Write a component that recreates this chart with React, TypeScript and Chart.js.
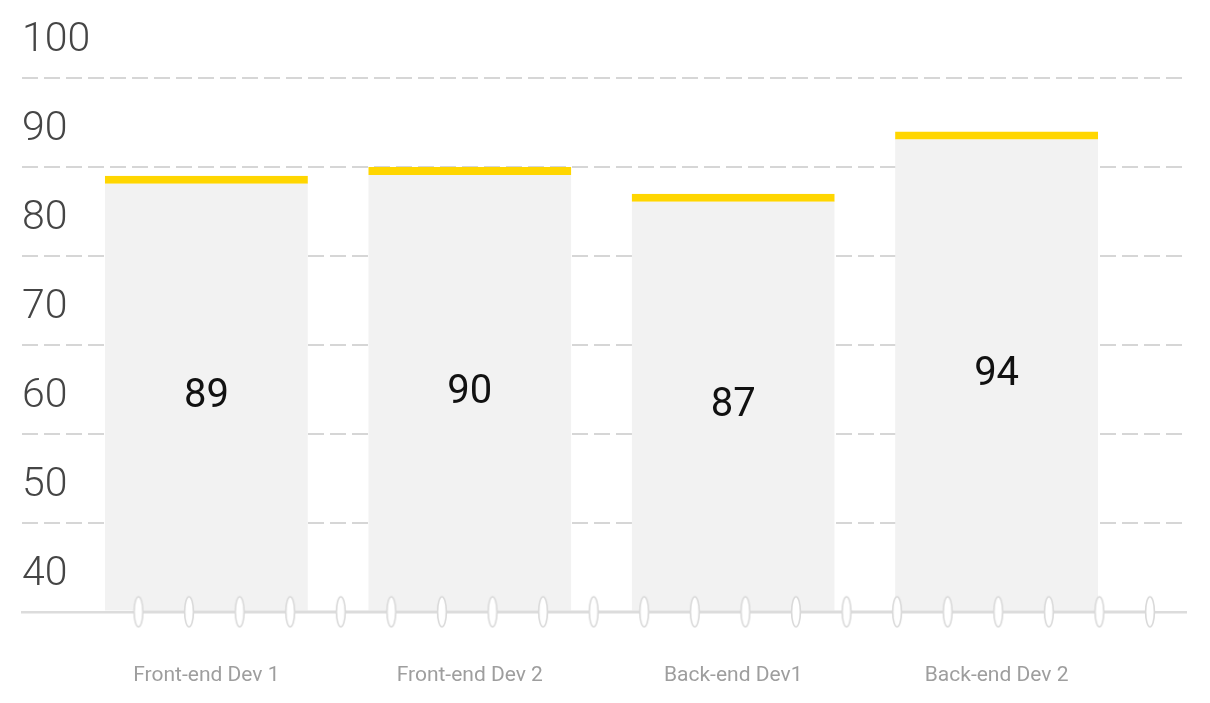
import { useEffect, useRef } from 'react';
import { Chart, registerables } from 'chart.js';

Chart.register(...registerables);

// ---- data ----
const categories = ['Front-end Dev 1', 'Front-end Dev 2', 'Back-end Dev1', 'Back-end Dev 2'];
const scores = [89, 90, 87, 94];
const yTickValues = [40, 50, 60, 70, 80, 90, 100];
const ringSlots = [0, 1, 2, 3, 4, 5, 6, 7, 8, 9, 10, 11, 12, 13, 14, 15, 16, 17, 18, 19, 20];
const ringLevel = 40;

function makeRing(): HTMLCanvasElement {
  const c = document.createElement('canvas');
  c.width = 12;
  c.height = 34;
  const g = c.getContext('2d')!;
  g.beginPath();
  g.ellipse(6, 17, 4.4, 15, 0, 0, Math.PI * 2);
  g.fillStyle = '#ffffff';
  g.fill();
  g.lineWidth = 1.6;
  g.strokeStyle = '#d9d9d9';
  g.stroke();
  return c;
}

const valueLabelPlugin = {
  id: 'valueLabels',
  afterDatasetsDraw(chart: any) {
    const meta = chart.getDatasetMeta(0);
    const ctx = chart.ctx;
    ctx.save();
    ctx.font = '400 40px Roboto';
    ctx.fillStyle = '#111111';
    ctx.textAlign = 'center';
    ctx.textBaseline = 'middle';
    meta.data.forEach((el: any, i: number) => {
      const { x, y, base } = el.getProps(['x', 'y', 'base'], true);
      ctx.fillText(String(scores[i]), x, (y + base) / 2 + 4);
    });
    ctx.restore();
  },
};

export default function App() {
  const ref = useRef<HTMLCanvasElement | null>(null);

  useEffect(() => {
    if (!ref.current) return;
    const ring = makeRing();
    const chart = new Chart(ref.current, {
      type: 'bar',
      data: {
        datasets: [
          {
            type: 'bar',
            label: 'Score',
            data: categories.map((_, i) => ({ x: i, y: scores[i] })) as any,
            xAxisID: 'x',
            base: 40,
            grouped: false,
            backgroundColor: '#f2f2f2',
            borderColor: '#ffd600',
            borderWidth: { top: 8, right: 0, bottom: 0, left: 0 },
            borderSkipped: false,
            barPercentage: 0.7707,
            categoryPercentage: 1,
            order: 2,
          } as any,
          {
            type: 'line',
            label: 'rings',
            data: ringSlots.map((s) => ({ x: s, y: ringLevel })) as any,
            xAxisID: 'xr',
            showLine: true,
            borderColor: '#dcdcdc',
            borderWidth: 2.5,
            pointStyle: ring,
            pointRadius: 6,
            clip: false,
            order: 1,
          } as any,
        ],
      },
      options: {
        responsive: false,
        animation: false,
        events: [],
        layout: { padding: { left: 22, right: 24, top: 78, bottom: 0 } },
        plugins: {
          legend: { display: false },
          tooltip: { enabled: false },
        },
        scales: {
          x: {
            type: 'linear',
            offset: false,
            min: -0.7,
            max: 3.719,
            afterBuildTicks: (axis: any) => {
              axis.ticks = categories.map((_, i) => ({ value: i }));
            },
            grid: { display: false, drawTicks: false, offset: false },
            border: { display: true, color: '#dcdcdc', width: 2.5 },
            ticks: {
              padding: 51,
              maxRotation: 0,
              autoSkip: false,
              color: '#9e9e9e',
              font: { family: 'Roboto', size: 21, weight: '400' as any },
              callback: (v: any) => categories[v as number] ?? '',
            },
          },
          xr: {
            type: 'linear',
            display: false,
            offset: false,
            grid: { offset: false },
            min: -2.303,
            max: 20.712,
          },
          y: {
            type: 'linear',
            min: 40,
            max: 100,
            afterBuildTicks: (axis: any) => {
              axis.ticks = yTickValues.map((v) => ({ value: v }));
            },
            grid: {
              drawTicks: false,
              lineWidth: 2,
              color: (c: any) => (c.tick && c.tick.value === 40 ? 'rgba(0,0,0,0)' : '#d6d6d6'),
            },
            border: { display: false, dash: [16, 6] },
            ticks: {
              mirror: true,
              padding: 0,
              labelOffset: -37,
              color: '#454545',
              font: { family: 'Roboto', size: 41, weight: '300' as any },
            },
          },
        } as any,
      },
      plugins: [valueLabelPlugin],
    });
    return () => chart.destroy();
  }, []);

  return (
    <div style={{ position: 'absolute', left: 0, top: 0, width: 1210, height: 703, overflow: 'hidden', background: '#fff' }}>
      <canvas ref={ref} width={1210} height={739} style={{ display: 'block' }} />
    </div>
  );
}
